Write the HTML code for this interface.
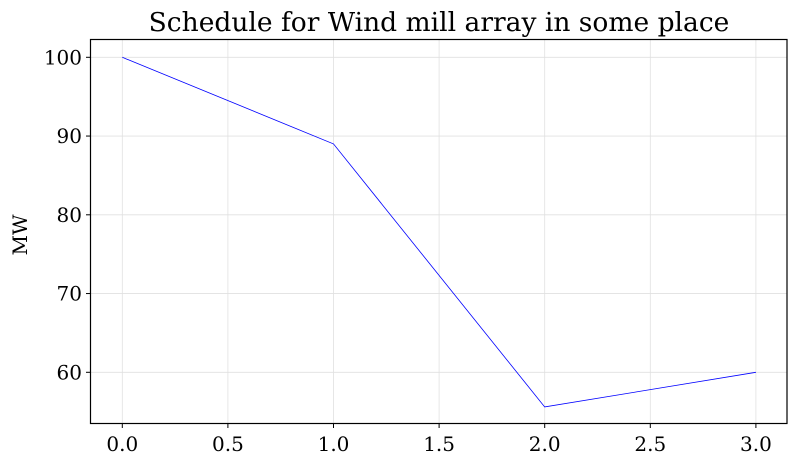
<!DOCTYPE html>
<html><head><meta charset="utf-8"><style>
body{margin:0;background:#fff}
svg text{font-family:"DejaVu Serif","Liberation Serif",serif;fill:#000}
</style></head><body>
<svg width="797" height="466">
<text x="439" y="31" font-size="26.5" text-anchor="middle">Schedule for Wind mill array in some place</text>
<g id="grid"></g>
<polyline id="line" fill="none" stroke="#0000ff" stroke-width="0.8"/>
<rect x="90.5" y="39.5" width="696.5" height="384" fill="none" stroke="#000" stroke-width="1.2"/>
<g id="ticks"></g>
<text transform="translate(27,235) rotate(-90)" font-size="20" text-anchor="middle">MW</text>
</svg>
<script>
const xValues=[0,1,2,3];
const mwValues=[100,89,55.6,60];
const xTicks=[0,0.5,1,1.5,2,2.5,3];
const yTicks=[60,70,80,90,100];
const sx=v=>122.3+v*211.2;
const sy=v=>372.3-(v-60)*7.875;
const NS='http://www.w3.org/2000/svg';
const grid=document.getElementById('grid'),ticks=document.getElementById('ticks');
function mk(p,tag,a){const e=document.createElementNS(NS,tag);for(const k in a)e.setAttribute(k,a[k]);p.appendChild(e);return e;}
xTicks.forEach(t=>{const x=sx(t);
const g=mk(grid,'line',{x1:x,x2:x,y1:39.5,y2:423.5,stroke:'#e0e0e0','stroke-width':0.8});


const l=mk(ticks,'line',{x1:x,x2:x,y1:423.5,y2:428,stroke:'#000'});


const tx=mk(ticks,'text',{x:x,y:451,'font-size':20,'text-anchor':'middle'});tx.textContent=t.toFixed(1);


});
yTicks.forEach(t=>{const y=sy(t);
const g=mk(grid,'line',{x1:90.5,x2:787,y1:y,y2:y,stroke:'#e0e0e0','stroke-width':0.8});


const l=mk(ticks,'line',{x1:86,x2:90.5,y1:y,y2:y,stroke:'#000'});


const tx=mk(ticks,'text',{x:82,y:y+7,'font-size':20,'text-anchor':'end'});tx.textContent=t;


});
document.getElementById('line').setAttribute('points',xValues.map((x,i)=>sx(x)+','+sy(mwValues[i])).join(' '));
</script>
</body></html>
